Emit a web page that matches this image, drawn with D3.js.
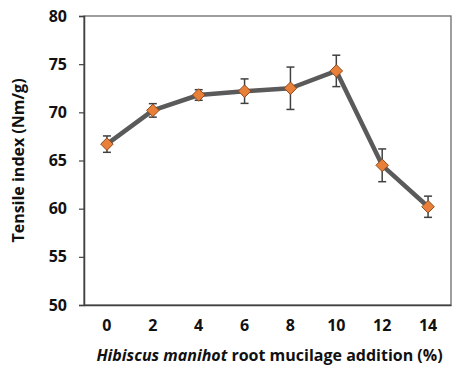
<!DOCTYPE html>
<html><head><meta charset="utf-8">
<script src="https://cdn.jsdelivr.net/npm/d3@7"></script>
<style>body{margin:0;background:#fff}svg{display:block}</style>
</head><body>
<script>
const categories = ["0","2","4","6","8","10","12","14"];
const values = [66.7, 70.2, 71.8, 72.2, 72.5, 74.3, 64.5, 60.2];
const errors = [0.85, 0.7, 0.55, 1.27, 2.2, 1.63, 1.7, 1.1];
const yTicks = [50, 55, 60, 65, 70, 75, 80];

const W = 467, H = 379;
const m = {left: 84, top: 16, right: 16, bottom: 74};
const svg = d3.select("body").append("svg").attr("width", W).attr("height", H);
const x = d3.scaleBand().domain(categories).range([m.left, W - m.right]);
const y = d3.scaleLinear().domain([50, 80]).range([H - m.bottom, m.top]);
const font = "'Open Sans', 'DejaVu Sans', sans-serif";

// frame
svg.append("rect").attr("x", m.left).attr("y", m.top)
  .attr("width", W - m.right - m.left).attr("height", H - m.bottom - m.top)
  .attr("fill", "none").attr("stroke", "#6a6a6a").attr("stroke-width", 1.3);

const yAxis = svg.append("g").attr("transform", `translate(${m.left},0)`)
  .call(d3.axisLeft(y).tickValues(yTicks).tickSize(5).tickPadding(12));
yAxis.select(".domain").attr("stroke", "#404040").attr("stroke-width", 1.5);
yAxis.selectAll(".tick line").attr("stroke", "#404040").attr("stroke-width", 1.2);
yAxis.selectAll("text").attr("font-family", font).attr("font-weight", "bold")
  .attr("font-size", 16).attr("fill", "#111");

const xAxis = svg.append("g").attr("transform", `translate(0,${H - m.bottom})`)
  .call(d3.axisBottom(x).tickSize(0).tickPadding(15));
xAxis.select(".domain").attr("stroke", "#404040").attr("stroke-width", 1.5);
xAxis.selectAll("text").attr("font-family", font).attr("font-weight", "bold")
  .attr("font-size", 16).attr("fill", "#111");

const cx = d => x(d) + x.bandwidth() / 2;
const data = categories.map((c, i) => ({c, v: values[i], e: errors[i]}));

// line
svg.append("path").datum(data)
  .attr("d", d3.line().x(d => cx(d.c)).y(d => y(d.v)))
  .attr("fill", "none").attr("stroke", "#5a5a5a").attr("stroke-width", 4.5)
  .attr("stroke-linejoin", "round");

// error bars
const eb = svg.append("g").attr("stroke", "#404040").attr("stroke-width", 1.5);
data.forEach(d => {
  const X = cx(d.c);
  eb.append("line").attr("x1", X).attr("x2", X).attr("y1", y(d.v + d.e)).attr("y2", y(d.v - d.e));
  eb.append("line").attr("x1", X - 4).attr("x2", X + 4).attr("y1", y(d.v + d.e)).attr("y2", y(d.v + d.e));
  eb.append("line").attr("x1", X - 4).attr("x2", X + 4).attr("y1", y(d.v - d.e)).attr("y2", y(d.v - d.e));
});

// markers
svg.append("g").selectAll("path").data(data).join("path")
  .attr("transform", d => `translate(${cx(d.c)},${y(d.v)})`)
  .attr("d", d3.symbol(d3.symbolDiamond2, 100)())
  .attr("fill", "#E8803A").attr("stroke", "#8a4a1e").attr("stroke-width", 1);

// axis titles
svg.append("text").attr("transform", `translate(24,${(m.top + H - m.bottom) / 2}) rotate(-90)`)
  .attr("text-anchor", "middle").attr("font-family", font).attr("font-weight", "bold")
  .attr("font-size", 16).attr("fill", "#111").text("Tensile index (Nm/g)");

const xt = svg.append("text").attr("x", (m.left + W - m.right) / 2 + 2).attr("y", 361)
  .attr("text-anchor", "middle").attr("font-family", font).attr("font-weight", "bold")
  .attr("font-size", 16).attr("fill", "#111");
xt.append("tspan").attr("font-style", "italic").text("Hibiscus manihot");
xt.append("tspan").text(" root mucilage addition (%)");
</script>
</body></html>
